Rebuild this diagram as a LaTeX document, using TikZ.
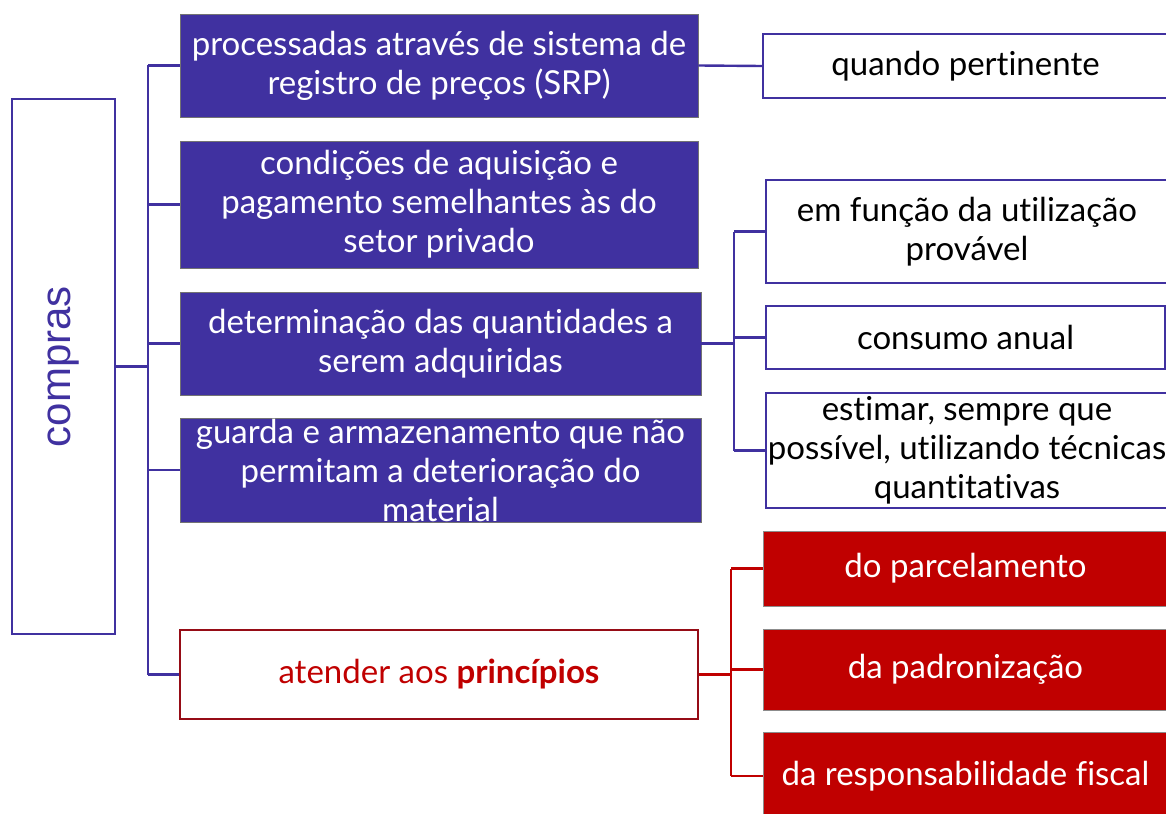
\documentclass[tikz,border=0pt]{standalone}
\usepackage{fontspec}
\setmainfont{Lato}[Ligatures=NoCommon]
\newfontfamily\arialf{Liberation Sans}
\definecolor{pur}{RGB}{64,49,160}
\definecolor{redf}{RGB}{192,0,0}
\definecolor{dred}{RGB}{150,12,22}
\begin{document}
\begin{tikzpicture}[x=1pt,y=-1pt,
  base/.style={rectangle, inner sep=0pt, align=center, font=\fontsize{33}{39}\selectfont},
  purbox/.style={base, fill=pur, draw=black!55, line width=0.8pt, text=white},
  whitebox/.style={base, fill=white, draw=pur, line width=2.4pt, text=black},
  redbox/.style={base, fill=redf, draw=black!45, line width=0.8pt, text=white},
  plink/.style={draw=pur, line width=2.4pt},
  rlink/.style={draw=redf, line width=2.4pt}]
\useasboundingbox (0,0) rectangle (1166,813);
\clip (0,0) rectangle (1166,813);
% root
\node[base, draw=pur, line width=2.8pt, minimum width=103, minimum height=535, text=pur,
  font=\arialf\fontsize{42}{50}\selectfont] (compras) at (63.5,366.5) {\rotatebox{90}{compras}};
% main branches
\node[purbox, minimum width=518, minimum height=103] (b1) at (439,65.5) {processadas através de sistema de\\registro de preços (SRP)};
\node[purbox, minimum width=518, minimum height=127] (b2) at (439,204.5) {condições de aquisição e\\pagamento semelhantes às do\\setor privado};
\node[purbox, minimum width=521, minimum height=103] (b3) at (440.5,343.5) {determinação das quantidades a\\serem adquiridas};
\node[purbox, minimum width=521, minimum height=104] (b4) at (440.5,470) {guarda e armazenamento que não\\permitam a deterioração do\\material};
\node[base, fill=white, draw=dred, line width=2.2pt, minimum width=518, minimum height=89, text=redf] (b5) at (439,674.5) {atender aos \textbf{princípios}};
% right side
\node[whitebox, minimum width=405, minimum height=64] (q) at (965.5,66) {quando pertinente};
\node[whitebox, minimum width=402, minimum height=103] (r1) at (967,231.5) {em função da utilização\\provável};
\node[whitebox, minimum width=399, minimum height=63] (r2) at (965.5,337.5) {consumo anual};
\node[whitebox, minimum width=402, minimum height=115] (r3) at (967,450.5) {estimar, sempre que\\possível, utilizando técnicas\\quantitativas};
\node[redbox, minimum width=405, minimum height=75] (p1) at (965.5,568.5) {do parcelamento};
\node[redbox, minimum width=405, minimum height=81] (p2) at (965.5,669.5) {da padronização};
\node[redbox, minimum width=405, minimum height=88] (p3) at (965.5,776) {da responsabilidade fiscal};
% trunks
\coordinate (t1) at (148,0);
\coordinate (t2) at (734,0);
\coordinate (t3) at (731,0);
\path[plink] (compras.east) -- (compras.east -| t1);
\path[plink] (b1.west -| t1) -- (b5.west -| t1);
\foreach \n in {b1,b2,b3,b4,b5} \path[plink] (\n.west -| t1) -- (\n.west);
\path[plink] (b1.east) -- (q.west);
\path[plink] (b3.east) -- (b3.east -| t2);
\path[plink] (r1.west -| t2) -- (r3.west -| t2);
\foreach \n in {r1,r2,r3} \path[plink] (\n.west -| t2) -- (\n.west);
\path[rlink] (b5.east) -- (b5.east -| t3);
\path[rlink] (p1.west -| t3) -- (p3.west -| t3);
\foreach \n in {p1,p2,p3} \path[rlink] (\n.west -| t3) -- (\n.west);
\end{tikzpicture}
\end{document}
